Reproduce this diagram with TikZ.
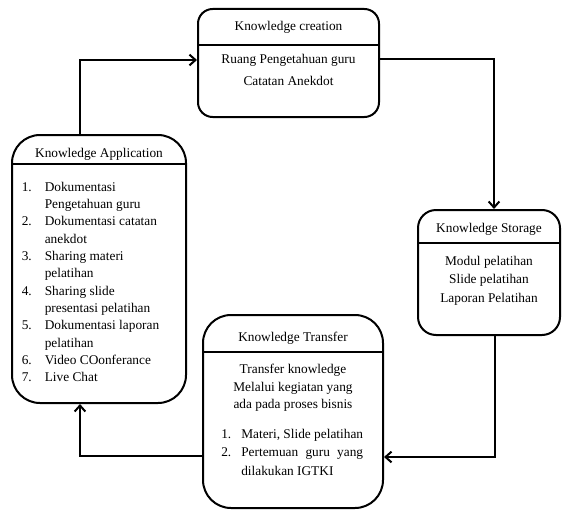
\documentclass[tikz,border=0pt]{standalone}
\usepackage{fontspec}
\setmainfont{Liberation Serif}
\usetikzlibrary{arrows.meta}
\newlength\matw
\begin{document}
\begin{tikzpicture}[x=0.75pt,y=-0.75pt,
  box/.style={draw, line width=1.5pt, rounded corners=#1, inner sep=0pt},
  divider/.style={line width=1.2pt},
  conn/.style={line width=1.5pt, -{Straight Barb[length=4.5pt,width=8pt]}},
  title/.style={font=\fontsize{10}{12}\selectfont, inner sep=0pt},
  body/.style={align=center, inner sep=0pt},
  lst/.style={inner sep=0pt, anchor=base west}]
\useasboundingbox (0,0) rectangle (563,510);

% boxes
\node[box=11pt, minimum width=135.75pt, minimum height=81pt] (create) at (288.5,63) {};
\node[box=21pt, minimum width=130.5pt, minimum height=201pt] (app) at (99,269) {};
\node[box=13.5pt, minimum width=106.5pt, minimum height=93.75pt] (storage) at (489,272.5) {};
\node[box=21pt, minimum width=135pt, minimum height=144.75pt] (transfer) at (293,411.5) {};

% dividers
\draw[divider] (create.west |- 0,45) -- (create.east |- 0,45);
\draw[divider] (app.west |- 0,164) -- (app.east |- 0,164);
\draw[divider] (storage.west |- 0,243) -- (storage.east |- 0,243);
\draw[divider] (transfer.west |- 0,352) -- (transfer.east |- 0,352);

% titles
\node[title] (createT) at (288.5,27) {Knowledge creation};
\node[title] (appT) at (99,154) {Knowledge Application};
\node[title] (storageT) at (489,229) {Knowledge Storage};
\node[title] (transferT) at (293,338) {Knowledge Transfer};

% bodies
\node[body, font=\fontsize{10}{16.5}\selectfont] (createB) at (288.5,70)
  {Ruang Pengetahuan guru\\Catatan Anekdot};
\node[body, font=\fontsize{10}{14}\selectfont] (storageB) at (489,280.5)
  {Modul pelatihan\\Slide pelatihan\\Laporan Pelatihan};
\node[body, font=\fontsize{10}{13}\selectfont] (transferB) at (293,388)
  {Transfer knowledge\\Melalui kegiatan yang\\ada pada proses bisnis};

\node[lst, font=\fontsize{10}{13}\selectfont] (appL) at (21.5,191)
  {\begin{tabular}[t]{@{}p{17.25pt}@{}l@{}}
   1. & Dokumentasi\\
      & Pengetahuan guru\\
   2. & Dokumentasi catatan\\
      & anekdot\\
   3. & Sharing materi\\
      & pelatihan\\
   4. & Sharing slide\\
      & presentasi pelatihan\\
   5. & Dokumentasi laporan\\
      & pelatihan\\
   6. & Video COonferance\\
   7. & Live Chat
  \end{tabular}};

\node[lst, font=\fontsize{10}{14}\selectfont] (transferL) at (221,438)
  {\settowidth{\matw}{Materi, Slide pelatihan}%
   \begin{tabular}[t]{@{}p{15pt}@{}l@{}}
   1. & Materi, Slide pelatihan\\
   2. & \makebox[\matw][s]{Pertemuan guru yang}\\
      & dilakukan IGTKI
  \end{tabular}};

% connectors
\draw[conn] (app.north -| 80,0) |- (create.west |- 0,60);
\draw[conn] (create.east |- 0,59) -| (storage.north -| 494,0);
\draw[conn] (storage.south -| 495,0) |- (transfer.east |- 0,457);
\draw[conn] (transfer.west |- 0,456) -| (app.south -| 80,0);
\end{tikzpicture}
\end{document}
